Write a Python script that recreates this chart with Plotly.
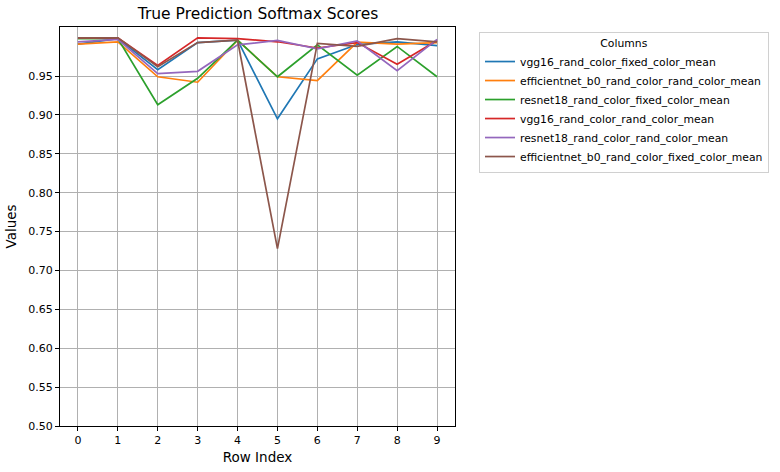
import plotly.graph_objects as go

row_index = list(range(10))
series_names = [
    "vgg16_rand_color_fixed_color_mean",
    "efficientnet_b0_rand_color_rand_color_mean",
    "resnet18_rand_color_fixed_color_mean",
    "vgg16_rand_color_rand_color_mean",
    "resnet18_rand_color_rand_color_mean",
    "efficientnet_b0_rand_color_fixed_color_mean",
]
vgg16_fixed = [0.991, 0.998, 0.958, 0.993, 0.996, 0.895, 0.972, 0.9905, 0.994, 0.989]
effnet_rand = [0.991, 0.994, 0.949, 0.942, 0.996, 0.949, 0.944, 0.9935, 0.991, 0.993]
resnet_fixed = [0.998, 0.998, 0.913, 0.947, 0.996, 0.949, 0.990, 0.951, 0.988, 0.949]
vgg16_rand = [0.999, 0.999, 0.9636, 0.999, 0.998, 0.994, 0.986, 0.993, 0.965, 0.9957]
resnet_rand = [0.994, 0.997, 0.953, 0.956, 0.990, 0.9957, 0.985, 0.995, 0.957, 0.997]
effnet_fixed = [0.999, 0.999, 0.962, 0.993, 0.996, 0.728, 0.992, 0.988, 0.998, 0.994]
y_ticks = [0.50, 0.55, 0.60, 0.65, 0.70, 0.75, 0.80, 0.85, 0.90, 0.95]

all_series = [vgg16_fixed, effnet_rand, resnet_fixed, vgg16_rand, resnet_rand, effnet_fixed]
colors = ["#1f77b4", "#ff7f0e", "#2ca02c", "#d62728", "#9467bd", "#8c564b"]

fig = go.Figure()
for name, vals, c in zip(series_names, all_series, colors):
    fig.add_trace(go.Scatter(x=row_index, y=vals, mode="lines", name=name,
                             line=dict(color=c, width=1.7)))

font_family = "DejaVu Sans"
axis_common = dict(showline=True, linecolor="black", linewidth=1, mirror=True,
                   ticks="outside", ticklen=4, tickcolor="black", automargin=False,
                   showgrid=True, gridcolor="#b0b0b0", gridwidth=1, zeroline=False,
                   tickfont=dict(family=font_family, size=11, color="black"))

fig.update_layout(
    width=780, height=472,
    paper_bgcolor="white", plot_bgcolor="white",
    margin=dict(l=60, r=324, t=27, b=46),
    font=dict(family=font_family, color="black"),
    title=dict(text="True Prediction Softmax Scores", x=(60 + 456) / 2 / 780, xanchor="center",
               y=1 - 14 / 472, yanchor="middle", font=dict(size=15.5, family=font_family)),
    xaxis=dict(range=[-0.45, 9.45], tickmode="array", tickvals=row_index,
               ticktext=[str(i) for i in row_index],
               title=dict(text="Row Index", font=dict(size=13.5), standoff=6), **axis_common),
    yaxis=dict(range=[0.5, 1.013], tickmode="array", tickvals=y_ticks,
               ticktext=[f"{v:.2f}" for v in y_ticks],
               title=dict(text="Values", font=dict(size=13.5), standoff=8), **axis_common),
    legend=dict(x=(479 - 60) / 396, xanchor="left", y=1 + (27 - 32) / 399, yanchor="top",
                bordercolor="#d0d0d0", borderwidth=1, bgcolor="white",
                font=dict(family=font_family, size=10.8),
                title=dict(text="Columns", side="top center", font=dict(size=10.8)),
                tracegroupgap=0, itemwidth=30),
    showlegend=True,
)

fig.write_html("out.html", config={"displayModeBar": False},
               post_script="document.body.style.margin='0';")
